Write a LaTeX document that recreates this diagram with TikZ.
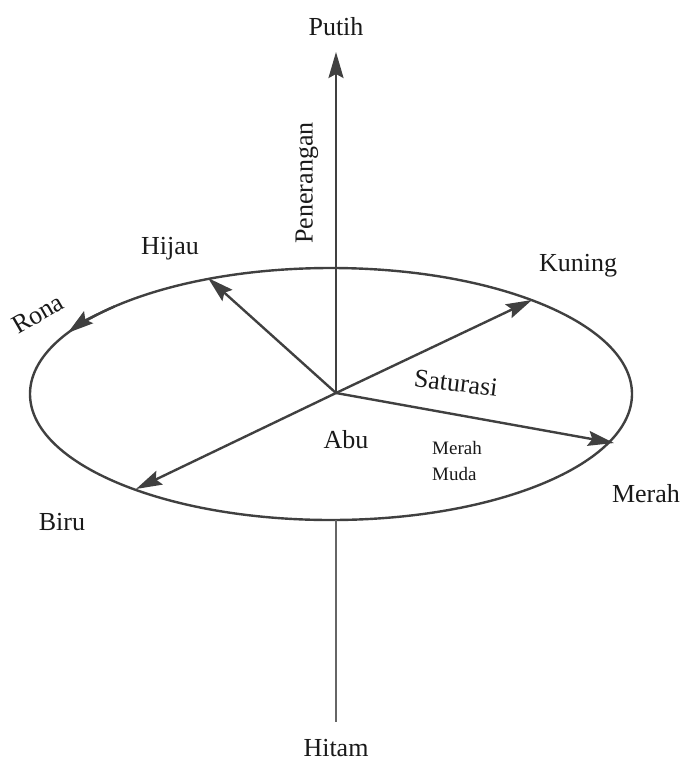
\documentclass[tikz,border=0pt]{standalone}
\usepackage{fontspec}
\setmainfont{Liberation Serif}
\newfontfamily\timesfont{Liberation Serif}
\usetikzlibrary{arrows.meta,calc}
\begin{document}
\begin{tikzpicture}[x=1pt,y=-1pt,
  axis/.style={draw=black!75,line width=2.4pt},
  tip/.style={-{Stealth[length=26pt,width=15pt,inset=4pt]}},
  lbl/.style={font=\timesfont\fontsize{26}{28}\selectfont,inner sep=0pt,text=black!90},
  slbl/.style={font=\timesfont\fontsize{19}{26}\selectfont,inner sep=0pt,text=black!90,align=left}]
\useasboundingbox (0,0) rectangle (686,764);
% key points
\coordinate (O) at (336,393);
\coordinate (top) at (336,52);
\coordinate (ebot) at (336,520);
\coordinate (bot) at (336,722);
\coordinate (hij) at (208,278);
\coordinate (kun) at (532,300);
\coordinate (mer) at (614,443);
\coordinate (bir) at (136,489);
\coordinate (ec) at (331,394);
% ellipse
\draw[axis] (ec) ellipse [x radius=301, y radius=126];
% hue arrowhead on ellipse
\draw[axis,tip] ($(ec)+(136:301 and -126)$) arc [start angle=136, end angle=151, x radius=301, y radius=-126];
% axes
\draw[axis,tip] (O) -- (top);
\draw[axis,draw=black!60] (ebot) -- (bot);
\draw[axis,tip] (O) -- (hij);
\draw[axis,tip] (O) -- (kun);
\draw[axis,tip] (O) -- (mer);
\draw[axis,tip] (O) -- (bir);
% labels
\node[lbl] (putih) at (336,27) {Putih};
\node[lbl,rotate=90] (pen) at (307,183) {Penerangan};
\node[lbl] (hijau) at (170,249) {Hijau};
\node[lbl] (kuning) at (578,266) {Kuning};
\node[lbl,rotate=30] (rona) at (38,314) {Rona};
\node[lbl,rotate=-7] (sat) at (456,383) {Saturasi};
\node[lbl] (abu) at (346,440) {Abu};
\node[slbl] (mm) at (457,461) {Merah\\Muda};
\node[lbl] (merah) at (646,494) {Merah};
\node[lbl] (biru) at (62,522) {Biru};
\node[lbl] (hitam) at (336,748) {Hitam};
\end{tikzpicture}
\end{document}
